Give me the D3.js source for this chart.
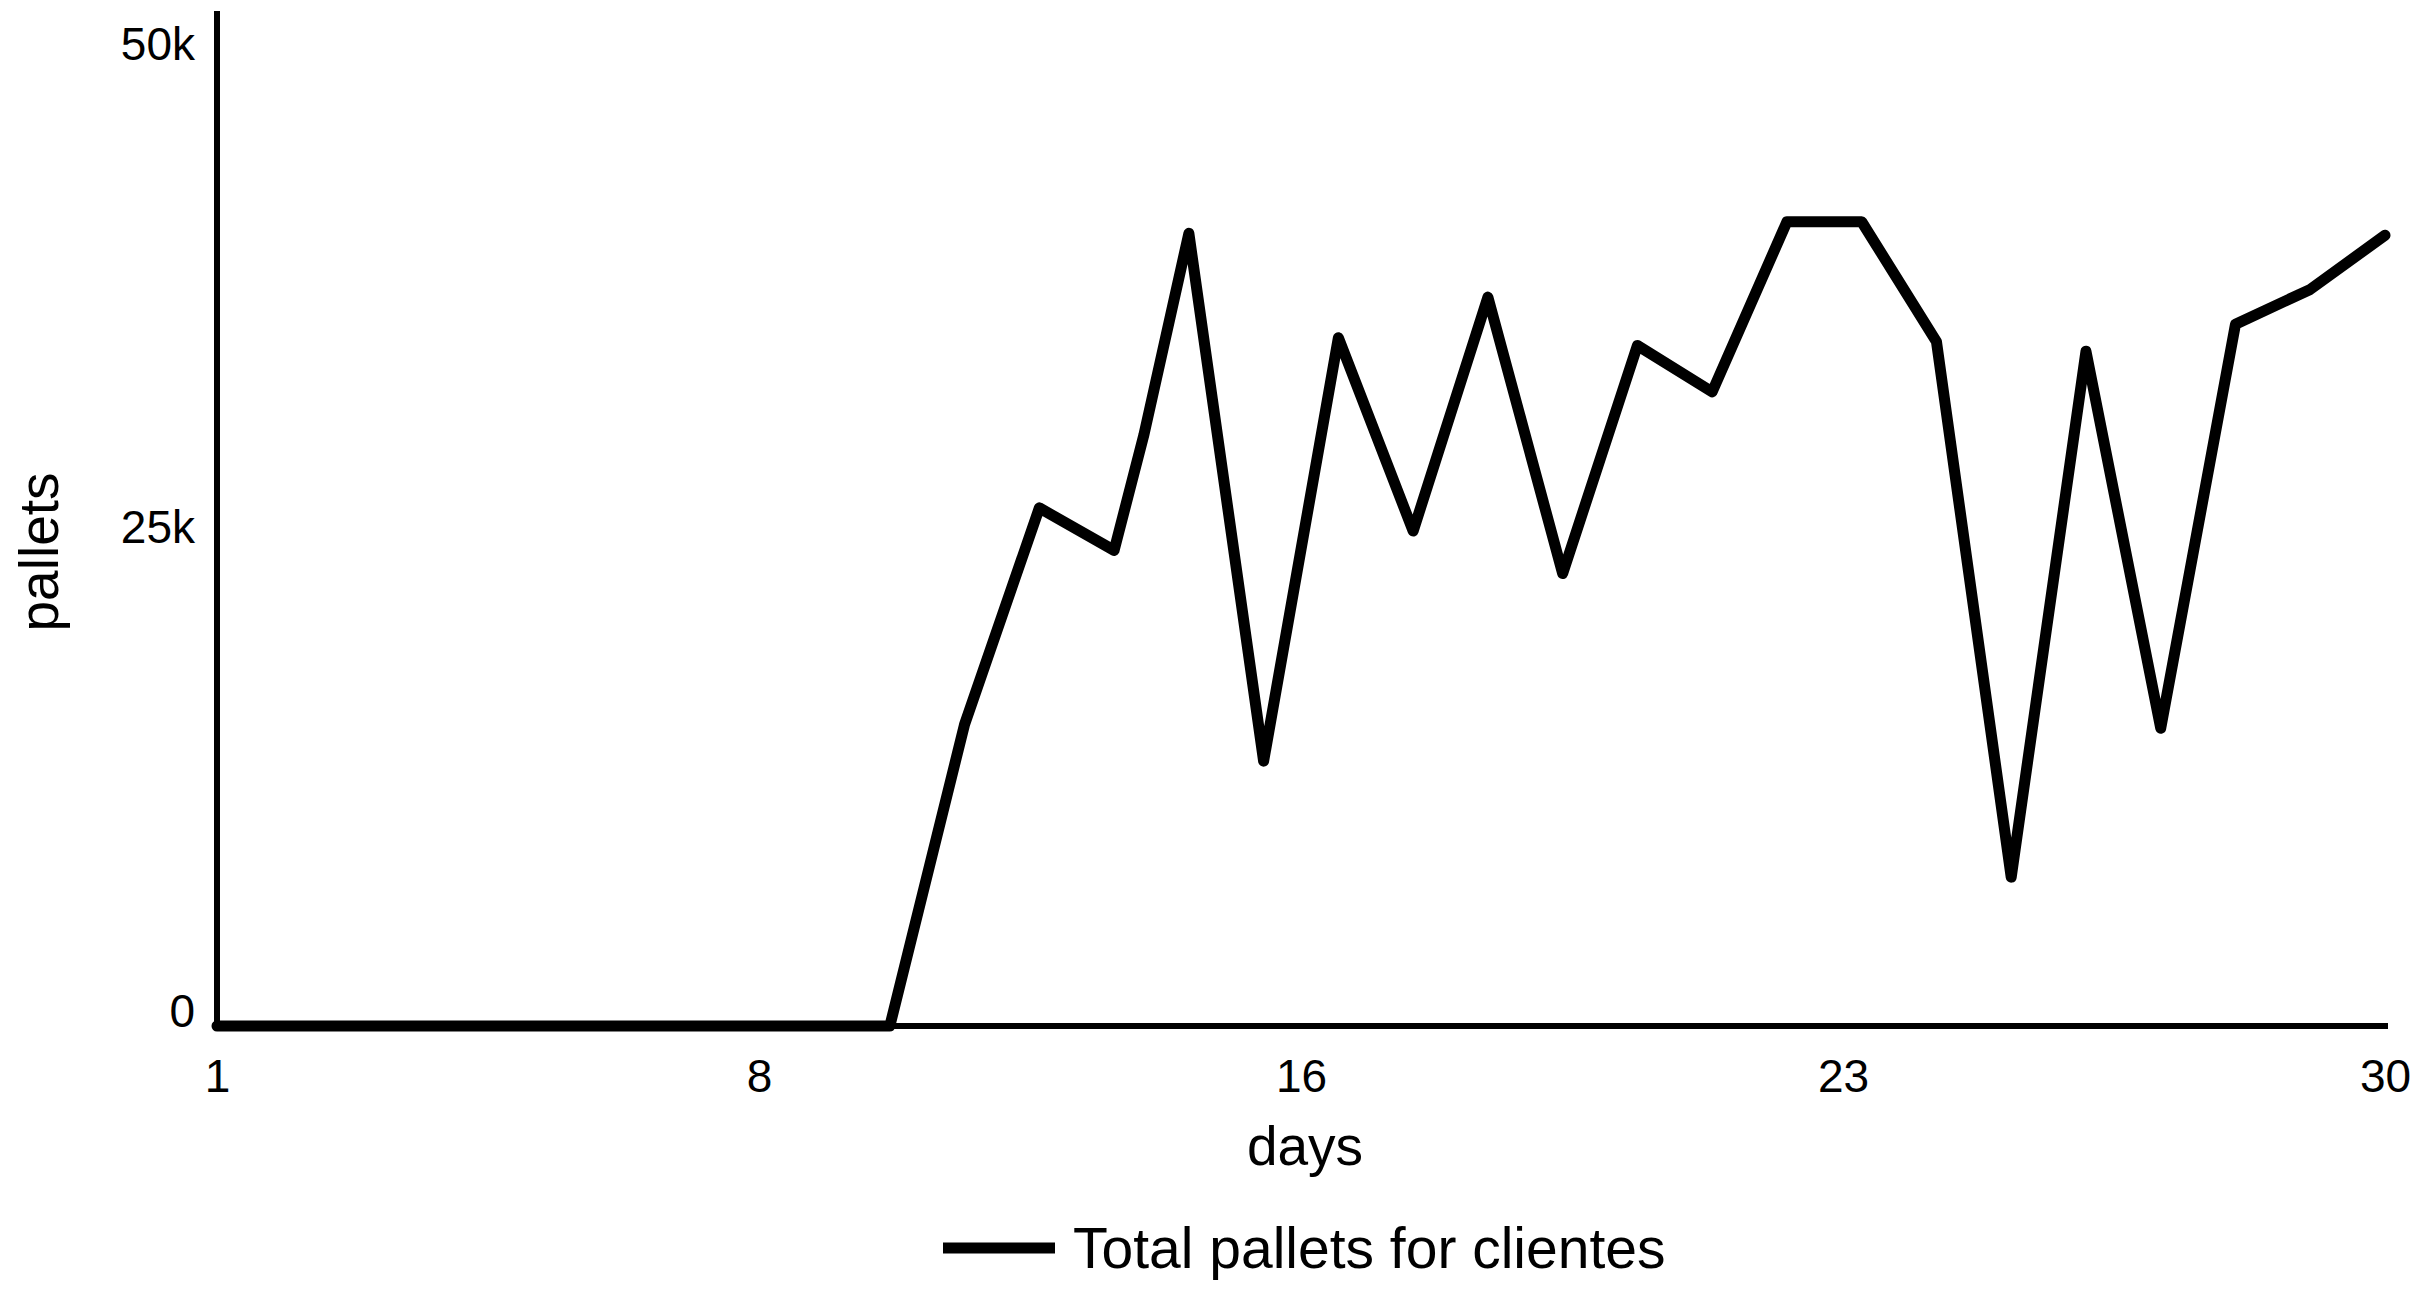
<!DOCTYPE html>
<html>
<head>
<meta charset="utf-8">
<script src="https://cdn.jsdelivr.net/npm/d3@7"></script>
<style>
  html, body { margin: 0; padding: 0; background: #fff; }
  svg { display: block; }
  text { font-family: "Liberation Sans", Arial, sans-serif; fill: #000; }
</style>
</head>
<body>
<svg id="chart" width="2429" height="1297"></svg>
<script>
// ---- data ----
const days = [1, 2, 3, 4, 5, 6, 7, 8, 9, 10, 11, 12, 13, 13.4, 14, 15, 16, 17, 18, 19, 20, 21, 22, 23, 24, 25, 26, 27, 28, 29, 30];
const pallets = [0, 0, 0, 0, 0, 0, 0, 0, 0, 0, 15600, 26800, 24600, 30600, 41000, 13700, 35600, 25600, 37700, 23400, 35200, 32800, 41600, 41600, 35400, 7700, 34900, 15400, 36300, 38100, 40900];
const xTickValues = [1, 8.25, 15.5, 22.75, 30];
const xTickLabels = ["1", "8", "16", "23", "30"];
const yTickValues = [0, 25000, 50000];
const yTickLabels = ["0", "25k", "50k"];
const seriesName = "Total pallets for clientes";
const xTitle = "days";
const yTitle = "pallets";

// ---- layout ----
const svg = d3.select("#chart");
const x = d3.scaleLinear().domain([1, 30]).range([217, 2385]);
const y = d3.scaleLinear().domain([0, 52500]).range([1026, 11]);

// axes lines (no tick marks)
const xAxis = d3.axisBottom(x).tickValues(xTickValues)
  .tickFormat((d, i) => xTickLabels[i]).tickSize(0).tickPadding(0);
const gx = svg.append("g").attr("transform", `translate(0,${y(0)})`).call(xAxis);
gx.select(".domain").attr("stroke", "#000").attr("stroke-width", 6)
  .attr("d", `M${x(1) - 3},0H${x(30) + 3}`);
gx.selectAll(".tick text")
  .attr("font-size", 46).attr("font-family", "Liberation Sans, Arial, sans-serif")
  .attr("fill", "#000").attr("dy", null).attr("y", 66);

const yAxis = d3.axisLeft(y).tickValues(yTickValues)
  .tickFormat((d, i) => yTickLabels[i]).tickSize(0).tickPadding(0);
const gy = svg.append("g").attr("transform", `translate(${x(1)},0)`).call(yAxis);
gy.select(".domain").attr("stroke", "#000").attr("stroke-width", 6)
  .attr("d", `M0,${y(0) + 3}V${y.range()[1]}`);
gy.selectAll(".tick text")
  .attr("font-size", 46).attr("font-family", "Liberation Sans, Arial, sans-serif")
  .attr("fill", "#000").attr("dy", null).attr("x", -22);

// line
const data = days.map((d, i) => ({ d, v: pallets[i] }));
const line = d3.line().x(p => x(p.d)).y(p => y(p.v));
svg.append("path").datum(data)
  .attr("d", line)
  .attr("fill", "none").attr("stroke", "#000").attr("stroke-width", 11)
  .attr("stroke-linejoin", "round").attr("stroke-linecap", "round");

// titles
svg.append("text").attr("x", (x(1) + x(30)) / 2 + 4).attr("y", 1165)
  .attr("text-anchor", "middle").attr("font-size", 55).text(xTitle);
svg.append("text")
  .attr("transform", `translate(58,552) rotate(-90)`)
  .attr("text-anchor", "middle").attr("font-size", 55).text(yTitle);

// legend
const lg = svg.append("g");
lg.append("line").attr("x1", 943).attr("x2", 1055).attr("y1", 1248).attr("y2", 1248)
  .attr("stroke", "#000").attr("stroke-width", 11);
lg.append("text").attr("x", 1073).attr("y", 1268).attr("font-size", 57).text(seriesName);
</script>
</body>
</html>
